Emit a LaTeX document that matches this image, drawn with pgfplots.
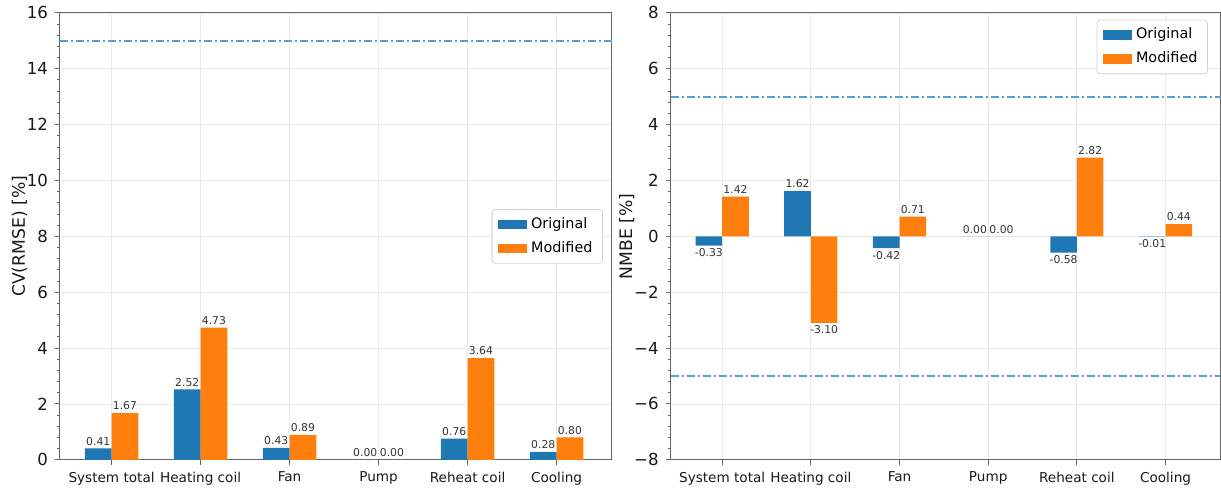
\documentclass[border=0pt]{standalone}
\usepackage{pgfplots}
\usepackage{pgfplotstable}
\pgfplotsset{compat=1.18}
\usepackage{fontspec}
\setmainfont{DejaVu Sans}
\definecolor{tabblue}{HTML}{1F77B4}
\definecolor{taborange}{HTML}{FF7F0E}
\definecolor{refline}{HTML}{5B9FD8}

\pgfplotstableread{
x y l
0 0.41 0.41
1 2.52 2.52
2 0.43 0.43
3 0.00 0.00
4 0.76 0.76
5 0.28 0.28
}\cvorig
\pgfplotstableread{
x y l
0 1.67 1.67
1 4.73 4.73
2 0.89 0.89
3 0.00 0.00
4 3.64 3.64
5 0.80 0.80
}\cvmod
\pgfplotstableread{
x y l
0 -0.33 -0.33
1 1.62 1.62
2 -0.42 -0.42
3 0.00 0.00
4 -0.58 -0.58
5 -0.01 -0.01
}\nmorig
\pgfplotstableread{
x y l
0 1.42 1.42
1 -3.10 -3.10
2 0.71 0.71
3 0.00 0.00
4 2.82 2.82
5 0.44 0.44
}\nmmod

\pgfplotsset{
 mybars/.style={
  scale only axis, height=223.5pt,
  ybar=0pt, bar width=0.3,
  xmin=-0.58, xmax=5.62,
  xtick={0,...,5},
  xticklabels={System total, Heating coil, Fan, Pump, Reheat coil, Cooling},
  x tick label style={font=\fontsize{6.8}{8}\selectfont, text=black!90},
  y tick label style={font=\fontsize{8.3}{10}\selectfont, text=black!90},
  ylabel style={font=\fontsize{8.6}{10}\selectfont, text=black!90},
  ylabel shift=-7pt,
  /pgf/number format/assume math mode=true,
  grid=major, major grid style={draw=black!8, line width=0.4pt},
  axis line style={black!60, line width=0.5pt},
  tick align=outside, tick pos=left,
  tick style={black!60, line width=0.5pt},
  major tick length=2.5pt, minor tick length=1.5pt,
  minor y tick num=4,
  legend style={font=\fontsize{7.2}{8}\selectfont, draw=black!18, rounded corners=1.5pt,
    inner xsep=3pt, inner ysep=2pt, row sep=1pt, cells={anchor=west}},
  legend image code/.code={\fill[##1, sharp corners] (0pt,-2.4pt) rectangle (14.5pt,2.4pt);},
 },
 barlab/.style={nodes near coords, point meta=explicit symbolic,
   visualization depends on={rawy \as \rawyv},
   every node near coord/.append style={font=\fontsize{5.4}{6.5}\selectfont, text=black!80, inner sep=1.3pt,
     /utils/exec={\pgfmathparse{\rawyv<0}\ifnum\pgfmathresult=1 \def\myanc{north}\else\def\myanc{south}\fi},
     anchor=\myanc}},
 refl/.style={draw=refline, line width=0.85pt, dash pattern=on 4pt off 1.5pt on 1pt off 1.5pt, sharp plot, forget plot},
}

\begin{document}
\begin{tikzpicture}
\path (0,0) rectangle (610.5pt,242.5pt);
\begin{axis}[mybars, at={(30pt,13pt)}, anchor=south west, width=276pt,
  ymin=0, ymax=16, ytick={0,2,...,16},
  ylabel={CV(RMSE) [\%]},
  legend style={at={(0.984,0.5)}, anchor=east}]
\addplot[fill=tabblue, draw=none, barlab] table[x=x,y=y,meta=l] {\cvorig};
\addplot[fill=taborange, draw=none, barlab] table[x=x,y=y,meta=l] {\cvmod};
\addplot[refl] coordinates {(-0.58,15) (5.62,15)};
\legend{Original, Modified}
\end{axis}
\begin{axis}[mybars, at={(335.5pt,13pt)}, anchor=south west, width=275pt,
  ymin=-8, ymax=8, ytick={-8,-6,...,8},
  yticklabels={−8,−6,−4,−2,0,2,4,6,8},
  ylabel={NMBE [\%]},
  legend style={at={(0.977,0.985)}, anchor=north east}]
\addplot[fill=tabblue, draw=none, barlab] table[x=x,y=y,meta=l] {\nmorig};
\addplot[fill=taborange, draw=none, barlab] table[x=x,y=y,meta=l] {\nmmod};
\addplot[refl] coordinates {(-0.58,5) (5.62,5)};
\addplot[refl] coordinates {(-0.58,-5) (5.62,-5)};
\legend{Original, Modified}
\end{axis}
\end{tikzpicture}
\end{document}
